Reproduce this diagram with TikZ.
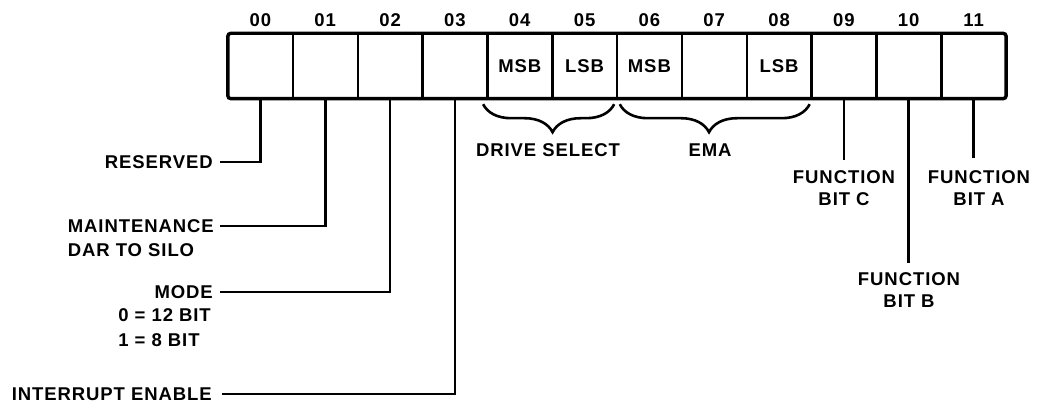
\documentclass[tikz,border=0pt]{standalone}
\usepackage{fontspec}
\setmainfont{Liberation Sans}[LetterSpace=5]
\usetikzlibrary{decorations.pathreplacing}
\begin{document}
\begin{tikzpicture}[x=1pt,y=-1pt,
  lbl/.style={font=\bfseries\fontsize{18.5}{22}\selectfont, inner sep=0pt},
  lead/.style={line width=2.6pt},
  cellbox/.style={minimum width=64.83pt, minimum height=65pt, inner sep=0pt, font=\bfseries\fontsize{18.5}{22}\selectfont},
  brc/.style={line width=2.6pt, decorate, decoration={brace, mirror, amplitude=28pt, aspect=#1}}
]
\useasboundingbox (0,0) rectangle (1037,403);
% cells
\foreach \i/\t in {0/{},1/{},2/{},3/{},4/MSB,5/LSB,6/MSB,7/{},8/LSB,9/{},10/{},11/{}}
  \node[cellbox] (c\i) at ({228+64.83*(\i+0.5)},66) {\t};
% bit numbers
\foreach \i/\n in {0/00,1/01,2/02,3/03,4/04,5/05,6/06,7/07,8/08,9/09,10/10,11/11}
  \node[lbl, anchor=south, yshift=6.5pt] (b\i) at (c\i.north) {\n};
% dividers and frame
\foreach \i in {0,...,10}
  \draw[line width=2.5pt] (c\i.north east) -- (c\i.south east);
\draw[line width=3.4pt, rounded corners=3pt] (c0.north west) rectangle (c11.south east);
% braces
\draw[brc=0.53] ([xshift=-4pt,yshift=-5.5pt]c4.south west) -- ([xshift=-3pt,yshift=-5.5pt]c5.south east);
\draw[brc=0.47] ([xshift=3pt,yshift=-5.5pt]c6.south west) -- ([xshift=-2pt,yshift=-5.5pt]c8.south east);
\node[lbl] (ds) at (548,150) {DRIVE SELECT};
\node[lbl] (ema) at (710,150) {EMA};
% left labels
\node[lbl, anchor=east] (res) at (213,162) {RESERVED};
\node[lbl, anchor=east] (maint) at (214,226) {MAINTENANCE};
\node[lbl, anchor=west] (dar) at ([yshift=-24pt]maint.west) {DAR TO SILO};
\node[lbl, anchor=east] (mode) at (213,292) {MODE};
\node[lbl, anchor=east] (m0) at (211,315) {0 = 12 BIT};
\node[lbl, anchor=west] (m1) at ([yshift=-25pt]m0.west) {1 = 8 BIT};
\node[lbl, anchor=east] (intr) at (212,394) {INTERRUPT ENABLE};
\draw[lead] (c0.south) |- ([xshift=7pt]res.east);
\draw[lead] (c1.south) |- ([xshift=6pt]maint.east);
\draw[lead] (c2.south) |- ([xshift=7pt]mode.east);
\draw[lead] (c3.south) |- ([xshift=10pt]intr.east);
% right labels
\node[lbl, anchor=north, align=center] (fc) at (844,170) {FUNCTION\\BIT C};
\node[lbl, anchor=north, align=center] (fb) at (909,272) {FUNCTION\\BIT B};
\node[lbl, anchor=north, align=center] (fa) at (979,170) {FUNCTION\\BIT A};
\coordinate (fctop) at ([yshift=10pt]fc.north);
\coordinate (fbtop) at ([yshift=9pt]fb.north);
\coordinate (fatop) at ([yshift=12pt]fa.north);
\draw[lead] (c9.south) -- (c9.south |- fctop);
\draw[lead] (c10.south) -- (c10.south |- fbtop);
\draw[lead] (c11.south) -- (c11.south |- fatop);
\end{tikzpicture}
\end{document}
